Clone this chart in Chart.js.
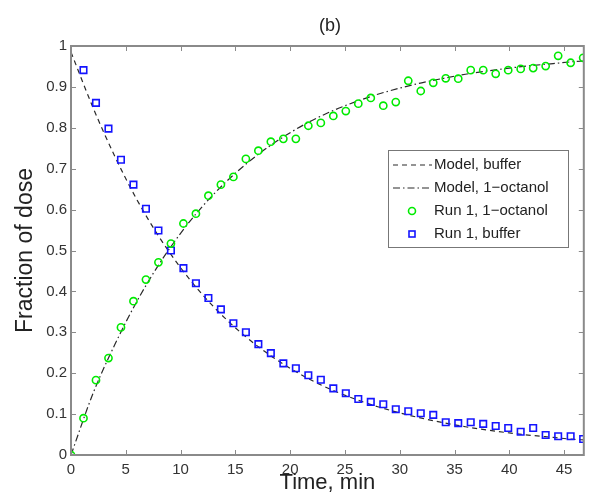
<!DOCTYPE html>
<html><head><meta charset="utf-8">
<script src="https://cdn.jsdelivr.net/npm/chart.js@4/dist/chart.umd.min.js"></script>
<style>html,body{margin:0;padding:0;background:#fff;}#wrap{width:590px;height:502px;position:relative;}</style>
</head><body><div id="wrap"><canvas id="c" width="590" height="502"></canvas></div>
<script>
const times = [0, 1.14, 2.28, 3.42, 4.56, 5.7, 6.84, 7.98, 9.12, 10.26, 11.4, 12.54, 13.68, 14.82, 15.96, 17.1, 18.24, 19.38, 20.52, 21.66, 22.8, 23.94, 25.08, 26.22, 27.36, 28.5, 29.64, 30.78, 31.92, 33.06, 34.2, 35.34, 36.48, 37.62, 38.76, 39.9, 41.04, 42.18, 43.32, 44.46, 45.6, 46.74];
const octanolRun = [0, 0.09, 0.183, 0.237, 0.312, 0.376, 0.429, 0.471, 0.517, 0.566, 0.59, 0.634, 0.661, 0.68, 0.724, 0.744, 0.766, 0.773, 0.773, 0.805, 0.812, 0.829, 0.841, 0.859, 0.873, 0.854, 0.863, 0.915, 0.89, 0.91, 0.921, 0.92, 0.941, 0.941, 0.932, 0.941, 0.944, 0.946, 0.951, 0.976, 0.959, 0.971];
const bufferRun = [null, 0.941, 0.861, 0.798, 0.722, 0.661, 0.602, 0.549, 0.5, 0.457, 0.42, 0.384, 0.356, 0.322, 0.3, 0.271, 0.249, 0.224, 0.212, 0.195, 0.184, 0.163, 0.151, 0.137, 0.13, 0.124, 0.112, 0.107, 0.102, 0.098, 0.08, 0.078, 0.08, 0.076, 0.071, 0.066, 0.057, 0.066, 0.049, 0.046, 0.046, 0.039];
const modelTimes = [0, 2, 4, 6, 8, 10, 12, 14, 16, 18, 20, 22, 24, 26, 28, 30, 32, 34, 36, 38, 40, 42, 44, 46, 46.8];
const modelBuffer = [0.985, 0.85, 0.73, 0.625, 0.535, 0.458, 0.392, 0.336, 0.288, 0.247, 0.212, 0.182, 0.157, 0.136, 0.118, 0.103, 0.09, 0.079, 0.069, 0.061, 0.054, 0.048, 0.043, 0.038, 0.037];
const modelOctanol = [0, 0.15, 0.27, 0.375, 0.465, 0.542, 0.608, 0.664, 0.712, 0.753, 0.788, 0.818, 0.843, 0.864, 0.882, 0.897, 0.91, 0.921, 0.931, 0.939, 0.946, 0.952, 0.957, 0.962, 0.963];
const xTicks = [0, 5, 10, 15, 20, 25, 30, 35, 40, 45];
const yTicks = [0, 0.1, 0.2, 0.3, 0.4, 0.5, 0.6, 0.7, 0.8, 0.9, 1];
const yTickLabels = ['0', '0.1', '0.2', '0.3', '0.4', '0.5', '0.6', '0.7', '0.8', '0.9', '1'];
const legendLabels = ['Model, buffer', 'Model, 1\u2212octanol', 'Run 1, 1\u2212octanol', 'Run 1, buffer'];
const chartTitle = '(b)';
const xTitle = 'Time, min';
const yTitle = 'Fraction of dose';

const FONT = "'Liberation Sans', Arial, Helvetica, sans-serif";
const GREEN = 'rgb(0,235,0)';
const BLUE = 'rgb(20,20,255)';
const LINE = '#2a2a2a';
const AXIS = '#8a8a8a';
const DASH = [5, 4];
const DASHDOT = [7, 3, 1.5, 3];

const pts = (xs, ys) => xs.map((x, i) => ({x: x, y: ys[i]}));

const frame = {
  id: 'frame',
  afterDraw(chart) {
    const {ctx, chartArea: a, scales} = chart;
    ctx.save();
    // ticks inward
    ctx.strokeStyle = AXIS; ctx.lineWidth = 1;
    ctx.beginPath();
    xTicks.forEach(v => {
      const px = Math.round(scales.x.getPixelForValue(v)) + 0.5;
      ctx.moveTo(px, a.bottom); ctx.lineTo(px, a.bottom - 5);
      ctx.moveTo(px, a.top); ctx.lineTo(px, a.top + 5);
    });
    yTicks.forEach(v => {
      const py = Math.round(scales.y.getPixelForValue(v)) + 0.5;
      ctx.moveTo(a.left, py); ctx.lineTo(a.left + 5, py);
      ctx.moveTo(a.right, py); ctx.lineTo(a.right - 5, py);
    });
    ctx.stroke();
    // box
    ctx.lineWidth = 2; ctx.strokeStyle = AXIS;
    ctx.strokeRect(a.left, a.top, a.right - a.left, a.bottom - a.top);
    // title
    ctx.fillStyle = '#222'; ctx.font = '18px ' + FONT;
    ctx.textAlign = 'center'; ctx.textBaseline = 'middle';
    ctx.fillText(chartTitle, 330, 26);
    // legend
    const L = 388, T = 150, W = 180, H = 97;
    ctx.fillStyle = '#fff'; ctx.fillRect(L, T, W, H);
    ctx.lineWidth = 1; ctx.strokeStyle = '#777';
    ctx.strokeRect(L + 0.5, T + 0.5, W, H);
    const rows = [165, 188, 211, 234];
    ctx.font = '15px ' + FONT; ctx.textAlign = 'left'; ctx.fillStyle = '#222';
    rows.forEach((ry, i) => {
      ctx.fillText(legendLabels[i], 434, ry);
    });
    ctx.strokeStyle = LINE; ctx.lineWidth = 1.2;
    ctx.setLineDash(DASH);
    ctx.beginPath(); ctx.moveTo(393, rows[0]); ctx.lineTo(432, rows[0]); ctx.stroke();
    ctx.setLineDash(DASHDOT);
    ctx.beginPath(); ctx.moveTo(393, rows[1]); ctx.lineTo(432, rows[1]); ctx.stroke();
    ctx.setLineDash([]);
    ctx.lineWidth = 1.6;
    ctx.strokeStyle = GREEN;
    ctx.beginPath(); ctx.arc(412, rows[2], 3.5, 0, Math.PI * 2); ctx.stroke();
    ctx.strokeStyle = BLUE;
    ctx.strokeRect(409, rows[3] - 3, 6, 6);
    ctx.restore();
  }
};

new Chart(document.getElementById('c'), {
  type: 'scatter',
  data: {
    datasets: [
      {label: legendLabels[2], data: pts(times, octanolRun), showLine: false, pointStyle: 'circle', pointRadius: 3.6, borderWidth: 1.6, borderColor: GREEN, backgroundColor: 'rgba(0,0,0,0)', order: 1},
      {label: legendLabels[3], data: pts(times, bufferRun), showLine: false, pointStyle: 'rect', pointRadius: 4.6, borderWidth: 1.6, borderColor: BLUE, backgroundColor: 'rgba(0,0,0,0)', order: 2},
      {label: legendLabels[0], data: pts(modelTimes, modelBuffer), showLine: true, pointRadius: 0, borderColor: LINE, borderWidth: 1.2, borderDash: DASH, tension: 0.4, cubicInterpolationMode: 'monotone', order: 3},
      {label: legendLabels[1], data: pts(modelTimes, modelOctanol), showLine: true, pointRadius: 0, borderColor: LINE, borderWidth: 1.2, borderDash: DASHDOT, cubicInterpolationMode: 'monotone', order: 4}
    ]
  },
  options: {
    responsive: false, animation: false, devicePixelRatio: 1,
    layout: {padding: {top: 46, right: 2, left: 0, bottom: 0}},
    plugins: {legend: {display: false}, tooltip: {enabled: false}, title: {display: false}},
    scales: {
      x: {
        type: 'linear', min: 0, max: 46.8,
        afterFit: s => { s.height = 47; },
        afterBuildTicks: s => { s.ticks = xTicks.map(v => ({value: v})); },
        grid: {display: false, drawTicks: false},
        border: {display: false},
        ticks: {padding: 6, color: '#333', font: {family: FONT, size: 15}, maxRotation: 0, autoSkip: false},
        title: {display: true, text: xTitle, color: '#222', font: {family: FONT, size: 22}, padding: {top: 0, bottom: 6}}
      },
      y: {
        type: 'linear', min: 0, max: 1,
        afterFit: s => { s.width = 71; },
        afterBuildTicks: s => { s.ticks = yTicks.map(v => ({value: v})); },
        grid: {display: false, drawTicks: false},
        border: {display: false},
        ticks: {padding: 4, color: '#333', font: {family: FONT, size: 15}, autoSkip: false, callback: (v, i) => yTickLabels[i]},
        title: {display: true, text: yTitle, color: '#222', font: {family: FONT, size: 23}, padding: {top: 12, bottom: 0}}
      }
    }
  },
  plugins: [frame]
});
</script>
</body></html>
